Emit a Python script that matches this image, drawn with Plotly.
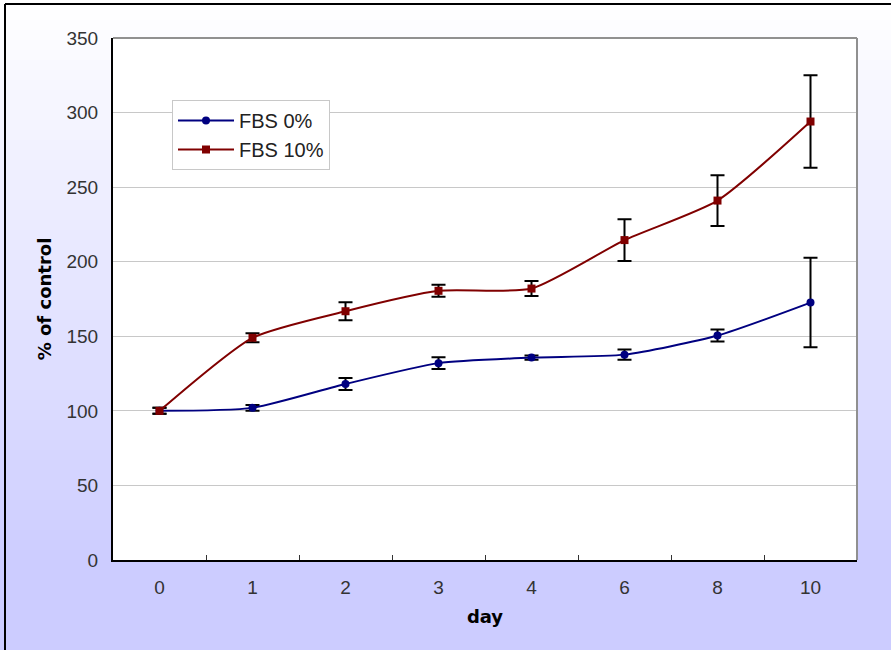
import plotly.graph_objects as go

days = ["0", "1", "2", "3", "4", "6", "8", "10"]
fbs0 = [100, 102, 118, 132, 135.7, 137.7, 150.5, 172.6]
fbs0_err = [2, 2, 4, 4, 1.5, 3.4, 4, 30]
fbs10 = [100, 149, 166.8, 180.5, 182, 214.5, 241, 294]
fbs10_err = [2, 3, 6, 4, 5, 14, 17, 31]
y_ticks = [0, 50, 100, 150, 200, 250, 300, 350]

W, H = 891, 650
L, R, T, B = 113, 34, 38, 90
pw, ph = W - L - R, H - T - B

def px_x(p):
    return (p - L) / pw

def px_y(p):
    return (H - B - p) / ph

fig = go.Figure()
fig.add_trace(go.Scatter(
    x=days, y=fbs0, name="FBS 0%", mode="lines+markers",
    line=dict(color="#000080", width=2, shape="spline", smoothing=0.6),
    marker=dict(symbol="circle", size=8, color="#000080"),
    error_y=dict(type="data", array=fbs0_err, visible=True, color="black", thickness=2, width=7),
))
fig.add_trace(go.Scatter(
    x=days, y=fbs10, name="FBS 10%", mode="lines+markers",
    line=dict(color="#800000", width=2, shape="spline", smoothing=0.6),
    marker=dict(symbol="square", size=8, color="#800000"),
    error_y=dict(type="data", array=fbs10_err, visible=True, color="black", thickness=2, width=7),
))

shapes = []
# background gradient white -> lavender
n = 66
for i in range(n):
    y0p = i * 10
    y1p = y0p + 10
    t = min(1.0, (y0p + 5) / 570.0)
    r = round(255 - t * (255 - 204))
    g = round(255 - t * (255 - 204))
    col = f"rgb({r},{g},255)"
    shapes.append(dict(type="rect", xref="paper", yref="paper", layer="below",
                       x0=px_x(-5), x1=px_x(W + 5), y0=px_y(y1p), y1=px_y(y0p),
                       fillcolor=col, line=dict(width=0)))
# plot area white
shapes.append(dict(type="rect", xref="paper", yref="paper", layer="below",
                   x0=0, x1=1, y0=0, y1=1, fillcolor="white", line=dict(width=0)))
# top/right gray border of plot area
shapes.append(dict(type="line", xref="paper", yref="paper", x0=0, x1=1, y0=1, y1=1,
                   line=dict(color="#909090", width=2)))
shapes.append(dict(type="line", xref="paper", yref="paper", x0=1, x1=1, y0=0, y1=1,
                   line=dict(color="#909090", width=2)))
# outer frame lines (left, top)
shapes.append(dict(type="line", xref="paper", yref="paper", x0=px_x(5), x1=px_x(5),
                   y0=px_y(H + 5), y1=px_y(4), line=dict(color="black", width=2)))
shapes.append(dict(type="line", xref="paper", yref="paper", x0=px_x(5), x1=px_x(W + 5),
                   y0=px_y(4), y1=px_y(4), line=dict(color="black", width=2)))

fig.update_layout(
    width=W, height=H,
    margin=dict(l=L, r=R, t=T, b=B),
    paper_bgcolor="white", plot_bgcolor="white",
    shapes=shapes,
    showlegend=True,
    legend=dict(x=px_x(172), y=px_y(100), xanchor="left", yanchor="top",
                bgcolor="white", bordercolor="#c8c8c8", borderwidth=1,
                font=dict(family="Liberation Sans, Arial, sans-serif", size=20, color="#222"),
                tracegroupgap=0, itemwidth=56),
    font=dict(family="Liberation Sans, Arial, sans-serif", color="#333"),
)
fig.update_xaxes(
    type="category", categoryorder="array", categoryarray=days, range=[-0.5, 7.5],
    showline=True, linecolor="black", linewidth=2,
    showgrid=False, ticks="inside", ticklen=5, tickcolor="#333", tickson="boundaries",
    tickfont=dict(size=19, color="#333"), ticklabelstandoff=9,
    title=dict(text="<b>day</b>", font=dict(family="DejaVu Sans, sans-serif", size=18, color="black"), standoff=14),
    zeroline=False,
)
fig.update_yaxes(
    range=[0, 350], tickvals=y_ticks,
    showline=True, linecolor="black", linewidth=2,
    showgrid=True, gridcolor="#c8c8c8", gridwidth=1,
    ticks="", tickfont=dict(size=19, color="#333"), ticklabelstandoff=9,
    title=dict(text="<b>% of control</b>", font=dict(family="DejaVu Sans, sans-serif", size=18, color="black"), standoff=10),
    zeroline=False,
)

fig.write_html("out.html", config={"displayModeBar": False},
               post_script="document.body.style.margin='0px';document.body.style.padding='0px';")
